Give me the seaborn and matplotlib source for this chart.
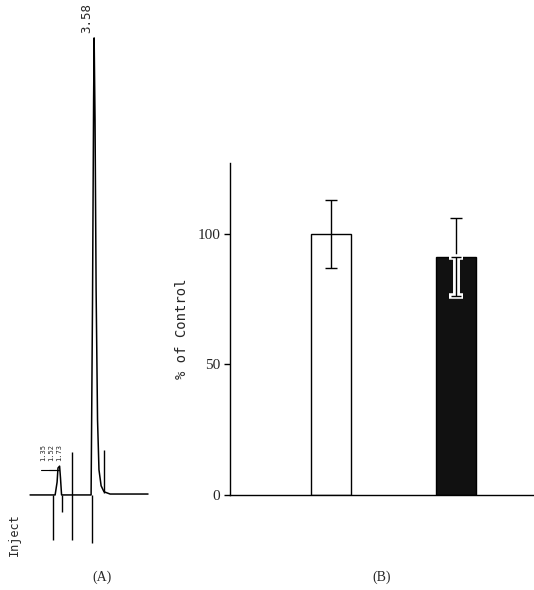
import matplotlib
matplotlib.use("Agg")
import matplotlib.pyplot as plt
import seaborn as sns
import pandas as pd

# ---------------- data ----------------
# Panel B: percent of control
groups = ["Control", "Treated"]
pct_mean = [100, 91]
pct_err = [13, 15]
y_ticks = [0, 50, 100]

# Panel A: chromatogram trace (retention time, min / relative signal)
trace_time = [0.00, 1.23, 1.40, 1.51, 1.56, 1.65, 1.70, 1.76, 3.41, 3.49, 3.55,
              3.58, 3.63, 3.69, 3.77, 3.85, 3.97, 4.13, 4.47, 6.59]
trace_signal = [0.0, 0.0, 0.0, 2.8, 5.9, 6.3, 3.7, 0.0, 0.0, 42.7, 86.4,
                100.0, 82.1, 44.9, 16.4, 5.5, 2.0, 0.7, 0.2, 0.2]
# event marks (time, low, high)
mark_time = [1.28, 1.79, 2.35, 3.46, 4.13]
mark_low = [-9.8, -3.7, -9.8, -10.5, 0.4]
mark_high = [0.0, 0.0, 9.4, 0.0, 9.8]
main_peak_label = "3.58"
minor_labels = ["1.35", "1.52", "1.73"]
minor_label_time = [0.72, 1.17, 1.62]

# ---------------- figure ----------------
sns.set_theme(style="white")
plt.rcParams["font.family"] = ["DejaVu Sans"]
fig = plt.figure(figsize=(5.34, 5.90), dpi=100)

# ----- Panel A -----
axA = fig.add_axes([0, 0, 160 / 534, 1])
axA.set_xlim(-1.68, 7.26)
axA.set_ylim(-20.8, 108.3)
axA.axis("off")
dfA = pd.DataFrame({"t": trace_time, "s": trace_signal})
sns.lineplot(data=dfA, x="t", y="s", ax=axA, color="black", linewidth=1.1,
             sort=False, estimator=None)
axA.vlines(mark_time, mark_low, mark_high, color="black", linewidth=1.0)
axA.text(3.15, 101, main_peak_label, rotation=90, ha="center", va="bottom",
         fontsize=9, family="DejaVu Sans Mono")
for lt, lb in zip(minor_label_time, minor_labels):
    axA.text(lt, 7.5, lb, rotation=90, ha="center", va="bottom", fontsize=5,
             family="DejaVu Sans Mono")
    axA.plot([lt - 0.1, 1.6], [5.5, 5.5], color="black", linewidth=0.8)
axA.text(-0.85, -4, "Inject", rotation=90, ha="center", va="top", fontsize=8.5,
         family="DejaVu Sans Mono")
fig.text(102 / 534, 1 - 577 / 590, "(A)", ha="center", va="center",
         fontsize=10, family="Liberation Serif")

# ----- Panel B -----
axB = fig.add_axes([230 / 534, 95 / 590, (534 - 230) / 534, (427 - 95) / 590])
dfB = pd.DataFrame({"group": groups, "pct": pct_mean})
sns.barplot(data=dfB, x="group", y="pct", ax=axB, hue="group",
            palette=["white", "#111111"], edgecolor="black", linewidth=1.0,
            width=0.32, errorbar=None, legend=False)
# error bars
axB.errorbar([0], [pct_mean[0]], yerr=[pct_err[0]], fmt="none", ecolor="black",
             elinewidth=1.0, capsize=4, capthick=1.0)
axB.errorbar([1], [pct_mean[1]], yerr=[[0], [pct_err[1]]], fmt="none",
             ecolor="black", elinewidth=1.0, capsize=4, capthick=1.0)
axB.errorbar([1], [pct_mean[1]], yerr=[[pct_err[1]], [0]], fmt="none",
             ecolor="white", elinewidth=5, capsize=5, capthick=4)
axB.errorbar([1], [pct_mean[1]], yerr=[[pct_err[1]], [0]], fmt="none",
             ecolor="black", elinewidth=1.0, capsize=3.5, capthick=1.0)

axB.set_xlim(-0.808, 1.624)
axB.set_ylim(0, 127)
axB.set_yticks(y_ticks)
axB.set_yticklabels([str(v) for v in y_ticks], family="Liberation Serif",
                    fontsize=11)
axB.set_xticks([])
axB.set_xlabel("")
axB.set_ylabel("% of Control", family="DejaVu Sans Mono", fontsize=10,
               labelpad=6)
for side in ["top", "right"]:
    axB.spines[side].set_visible(False)
for side in ["left", "bottom"]:
    axB.spines[side].set_color("black")
    axB.spines[side].set_linewidth(1.0)
axB.tick_params(axis="y", direction="out", length=4, width=1.0, color="black",
                left=True, pad=3)
axB.patch.set_alpha(0)
fig.text(382 / 534, 1 - 577 / 590, "(B)", ha="center", va="center",
         fontsize=10, family="Liberation Serif")

fig.savefig("out.png", dpi=100, facecolor="white")
